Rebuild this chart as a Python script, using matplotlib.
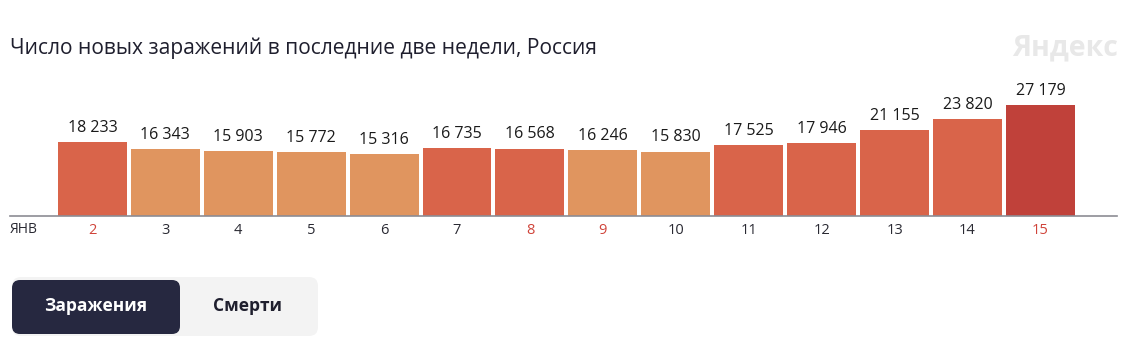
import matplotlib.pyplot as plt
from matplotlib.patches import FancyBboxPatch

plt.rcParams['font.family'] = ['Open Sans', 'DejaVu Sans']

days = ['2', '3', '4', '5', '6', '7', '8', '9', '10', '11', '12', '13', '14', '15']
cases = [18233, 16343, 15903, 15772, 15316, 16735, 16568, 16246, 15830,
         17525, 17946, 21155, 23820, 27179]
red_days = ['2', '8', '9', '15']
month = 'ЯНВ'
title = 'Число новых заражений в последние две недели, Россия'

light, mid, dark = '#e0955f', '#d9644a', '#c0413a'
bar_colors = [mid, light, light, light, light, mid, mid, light, light,
              mid, mid, mid, mid, dark]

W, H = 1138, 347
fig = plt.figure(figsize=(W / 100, H / 100), dpi=100)

# chart axes: baseline at y=216px, x from 10 to 1117px
ax = fig.add_axes([10 / W, 1 - 216 / H, 1107 / W, 136 / H])
x = list(range(len(days)))
ax.bar(x, cases, width=0.945, color=bar_colors, zorder=2)
for xi, v in zip(x, cases):
    ax.text(xi, v + 1500, f'{v:,}'.replace(',', ' '), ha='center', va='bottom',
            fontsize=11.5, color='#1a1a1a')
ax.set_xlim(-1.13, 14.05)
ax.set_ylim(0, 33415)
for s in ['top', 'right', 'left']:
    ax.spines[s].set_visible(False)
ax.spines['bottom'].set_color('#8c8c94')
ax.spines['bottom'].set_linewidth(1.2)
ax.set_yticks([])
ax.set_xticks(x)
ax.set_xticklabels(days, fontsize=10.5)
ax.tick_params(axis='x', length=0, pad=5)
for lbl in ax.get_xticklabels():
    lbl.set_color('#d0443a' if lbl.get_text() in red_days else '#2a2a33')

# overlay in pixel coordinates for title, watermark, buttons
ov = fig.add_axes([0, 0, 1, 1], zorder=-1)
ov.set_xlim(0, W)
ov.set_ylim(H, 0)
ov.axis('off')
ov.text(10, 48, title, fontsize=15.1, color='#1f1f2e', va='center', ha='left')
ov.text(1118, 48, 'Яндекс', fontsize=20.5, fontweight='bold', color='#e8e8e8',
        va='center', ha='right')
ov.text(10, 229, month, fontsize=10, color='#2a2a33', va='center', ha='left')

ov.add_patch(FancyBboxPatch((18, 283), 294, 47, boxstyle='round,pad=6,rounding_size=9',
                            fc='#f3f3f3', ec='none'))
ov.add_patch(FancyBboxPatch((18, 286), 156, 42, boxstyle='round,pad=6,rounding_size=8',
                            fc='#262840', ec='none'))
ov.text(96, 306, 'Заражения', fontsize=12.5, fontweight='bold', color='white',
        ha='center', va='center')
ov.text(248, 306, 'Смерти', fontsize=12.5, fontweight='bold', color='#1f1f2e',
        ha='center', va='center')

fig.savefig('out.png', dpi=100)
